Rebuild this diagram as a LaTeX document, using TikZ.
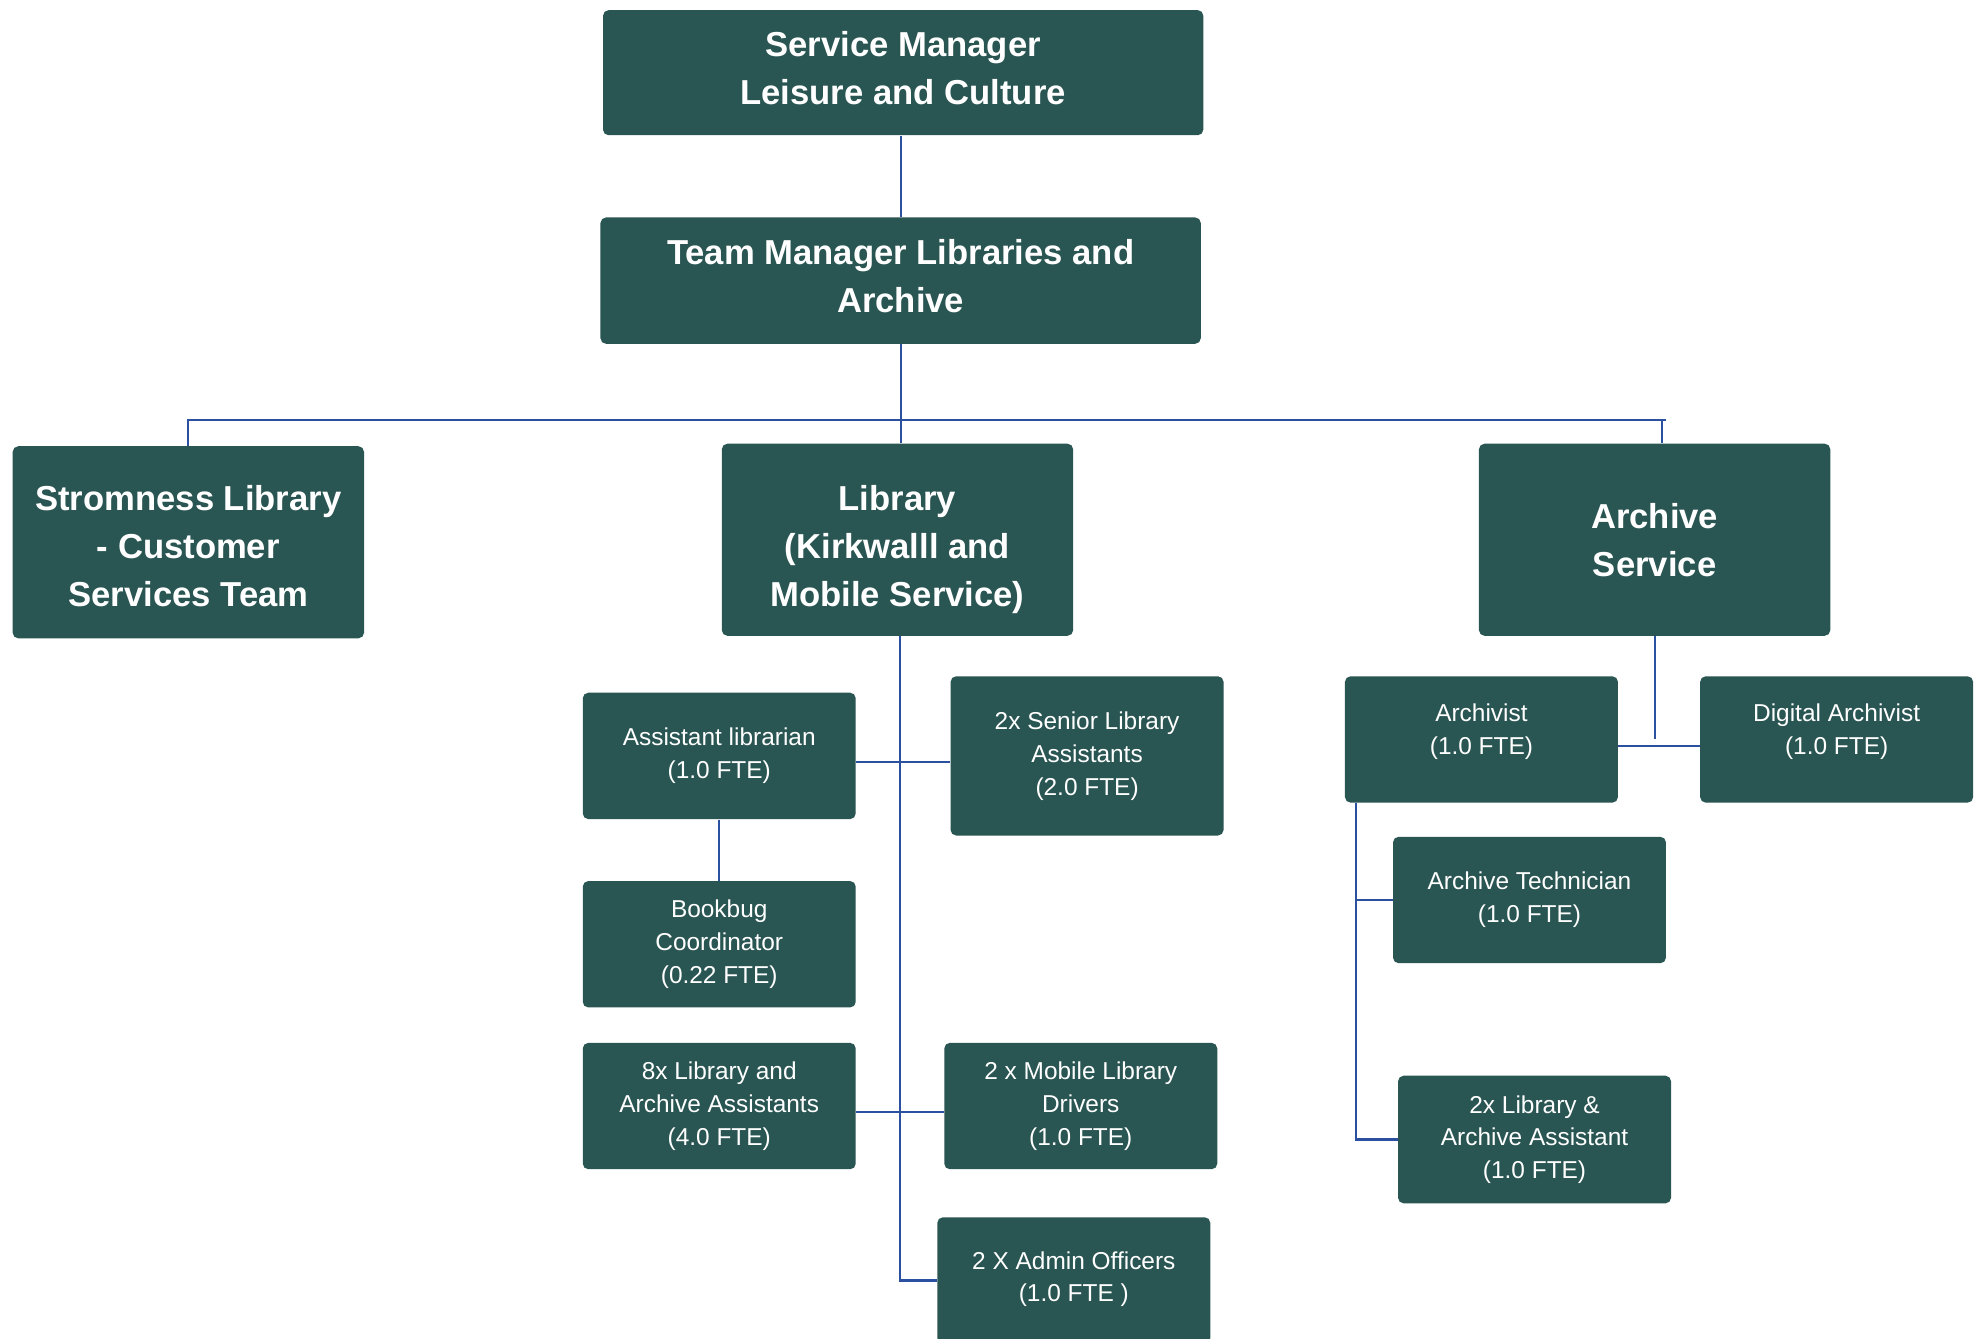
\documentclass[tikz,border=0pt]{standalone}
\usepackage{fontspec}
\setmainfont{Liberation Sans}
\usepackage{xcolor}
\usetikzlibrary{calc}
\definecolor{boxteal}{RGB}{41,85,82}
\definecolor{linkblue}{RGB}{44,80,160}

\begin{document}
\begin{tikzpicture}[x=0.02cm,y=-0.02cm,
    box/.style={fill=boxteal,rounded corners=2.5pt,text=white,align=center,inner sep=0pt},
    head/.style={box,font=\bfseries\fontsize{15.6}{21.6}\selectfont},
    unit/.style={head,minimum width=5.56cm,minimum height=3.04cm},
    staff/.style={box,font=\fontsize{11}{14.8}\selectfont,minimum width=4.32cm,minimum height=2cm},
    link/.style={draw=linkblue,line width=1pt}]%
    \useasboundingbox (0,0) rectangle (1568,1059);%
    % managers
    \node[head,minimum width=9.5cm,minimum height=1.98cm] (svcmgr) at (714.5,57.5) {Service Manager\\Leisure and Culture\\[-17.1pt]};%
    \node[head,minimum width=9.5cm,minimum height=2cm] (teammgr) at (712.5,222) {Team Manager Libraries and\\Archive\\[-17.1pt]};%
    % services
    \node[unit] (stromness) at (149,429) {Stromness Library\\- Customer\\Services Team\\[-25pt]};%
    \node[unit] (library) at (710,427) {Library\\(Kirkwalll and\\Mobile Service)\\[-27.2pt]};%
    \node[unit] (archive) at (1309,427) {Archive\\Service};%
    % library staff
    \node[staff] (asstlib) at (569,598) {Assistant librarian\\(1.0 FTE)};%
    \node[staff,minimum height=2.52cm] (senior) at (860,598) {2x Senior Library\\Assistants\\(2.0 FTE)};%
    \node[staff] (bookbug) at (569,747) {Bookbug\\Coordinator\\(0.22 FTE)};%
    \node[staff] (libassist) at (569,875) {8x Library and\\Archive Assistants\\(4.0 FTE)};%
    \node[staff] (drivers) at (855,875) {2 x Mobile Library\\Drivers\\(1.0 FTE)};%
    \node[staff] (admin) at (849.5,1013) {2 X Admin Officers\\(1.0 FTE )\\[-11.4pt]};%
    % archive staff
    \node[staff] (archivist) at (1172,585) {Archivist\\(1.0 FTE)\\[-5.7pt]};%
    \node[staff] (digital) at (1453,585) {Digital Archivist\\(1.0 FTE)\\[-5.7pt]};%
    \node[staff] (technician) at (1210,712) {Archive Technician\\(1.0 FTE)};%
    \node[staff,minimum height=2.02cm] (libarch) at (1214,901.5) {2x Library \&\\Archive Assistant\\(1.0 FTE)};%
    % connectors
    \coordinate (busR) at (1318,332);%
    \coordinate (spine) at ($(archivist.south west)+(9,0)$);%
    \draw[link] (teammgr.north) -- (teammgr.north |- svcmgr.south);%
    \draw[link] (teammgr.south) -- (teammgr.south |- library.north);%
    \draw[link] (stromness.north) |- (busR);%
    \draw[link] ([xshift=0.12cm]archive.north) -- ([xshift=0.12cm]archive.north |- busR);%
    \draw[link] ([xshift=0.04cm]library.south) |- (admin.west);%
    \draw[link] ([yshift=-0.1cm]asstlib.east) -- ([yshift=-0.1cm]senior.west);%
    \draw[link] (asstlib.south) -- (bookbug.north);%
    \draw[link] ([yshift=-0.1cm]libassist.east) -- ([yshift=-0.1cm]drivers.west);%
    \draw[link] ([yshift=-0.1cm]archivist.east) -- ([yshift=-0.1cm]digital.west);%
    \draw[link] (archive.south) -- (archive.south |- digital.west);%
    \draw[link] (spine) |- (technician.west);%
    \draw[link] (spine) |- (libarch.west);%
\end{tikzpicture}
\end{document}
